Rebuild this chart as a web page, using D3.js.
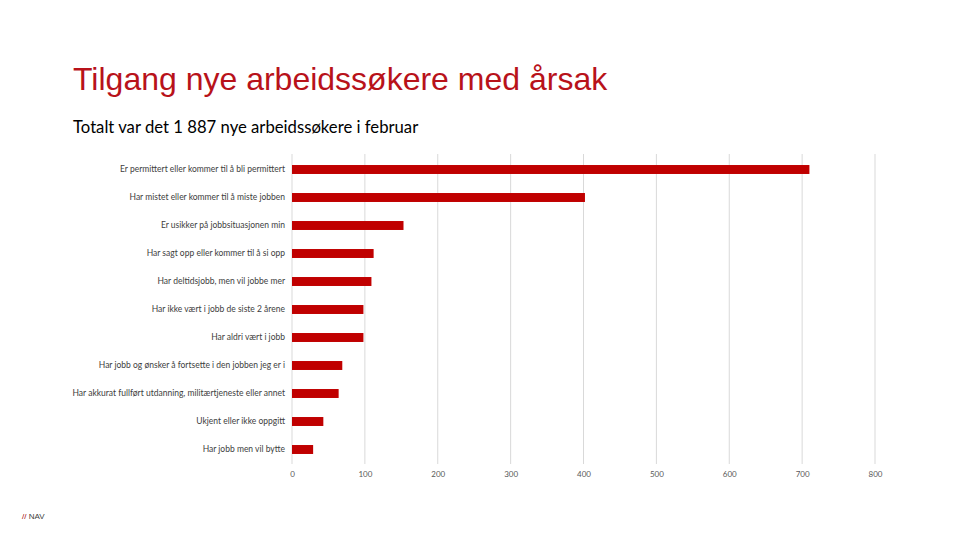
<!DOCTYPE html>
<html><head><meta charset="utf-8">
<script src="https://cdn.jsdelivr.net/npm/d3@7"></script>
<style>body{margin:0;background:#fff}svg{display:block}</style>
</head><body>
<script>
const categories = [
  "Er permittert eller kommer til å bli permittert",
  "Har mistet eller kommer til å miste jobben",
  "Er usikker på jobbsituasjonen min",
  "Har sagt opp eller kommer til å si opp",
  "Har deltidsjobb, men vil jobbe mer",
  "Har ikke vært i jobb de siste 2 årene",
  "Har aldri vært i jobb",
  "Har jobb og ønsker å fortsette i den jobben jeg er i",
  "Har akkurat fullført utdanning, militærtjeneste eller annet",
  "Ukjent eller ikke oppgitt",
  "Har jobb men vil bytte"
];
const values = [710, 402, 153, 112, 109, 98, 98, 69, 64, 43, 29];
const tickValues = [0, 100, 200, 300, 400, 500, 600, 700, 800];

const W = 960, H = 540;
const svg = d3.select("body").append("svg").attr("width", W).attr("height", H);

svg.append("text").attr("x", 73).attr("y", 90)
  .attr("font-family", "Liberation Sans, Arial, sans-serif").attr("font-size", 32)
  .attr("fill", "#b8121a").text("Tilgang nye arbeidssøkere med årsak");
svg.append("text").attr("x", 73).attr("y", 133)
  .attr("font-family", "Lato, Carlito, sans-serif").attr("font-size", 16.7)
  .attr("fill", "#000").text("Totalt var det 1 887 nye arbeidssøkere i februar");

const x = d3.scaleLinear().domain([0, 800]).range([292, 875]);
const y = d3.scaleBand().domain(categories).range([155.5, 463.5]).paddingInner(0.68).paddingOuter(0.34);

const g = svg.append("g");
g.selectAll("line.grid").data(tickValues).enter().append("line")
  .attr("x1", d => x(d)).attr("x2", d => x(d)).attr("y1", 154).attr("y2", 464)
  .attr("stroke", "#d9d9d9").attr("stroke-width", 1);

g.selectAll("rect").data(values).enter().append("rect")
  .attr("x", x(0)).attr("y", (d, i) => y(categories[i]))
  .attr("width", d => x(d) - x(0)).attr("height", y.bandwidth())
  .attr("fill", "#c00000");

const xAxis = d3.axisBottom(x).tickValues(tickValues).tickSize(0).tickPadding(0);
const xa = svg.append("g").attr("transform", "translate(0,471)").call(xAxis);
xa.select(".domain").remove();
xa.selectAll("text").attr("font-family", "Lato, sans-serif").attr("font-size", 8).attr("fill", "#595959");

const yAxis = d3.axisLeft(y).tickSize(0).tickPadding(7);
const ya = svg.append("g").attr("transform", `translate(${x(0)},0)`).call(yAxis);
ya.select(".domain").remove();
ya.selectAll("text").attr("font-family", "Lato, sans-serif").attr("font-size", 8.5).attr("fill", "#404040");

const nav = svg.append("text").attr("x", 22).attr("y", 519)
  .attr("font-family", "Liberation Sans, Arial, sans-serif").attr("font-size", 8);
nav.append("tspan").attr("fill", "#a00000").text("//");
nav.append("tspan").attr("fill", "#404040").text(" NAV");
</script>
</body></html>
